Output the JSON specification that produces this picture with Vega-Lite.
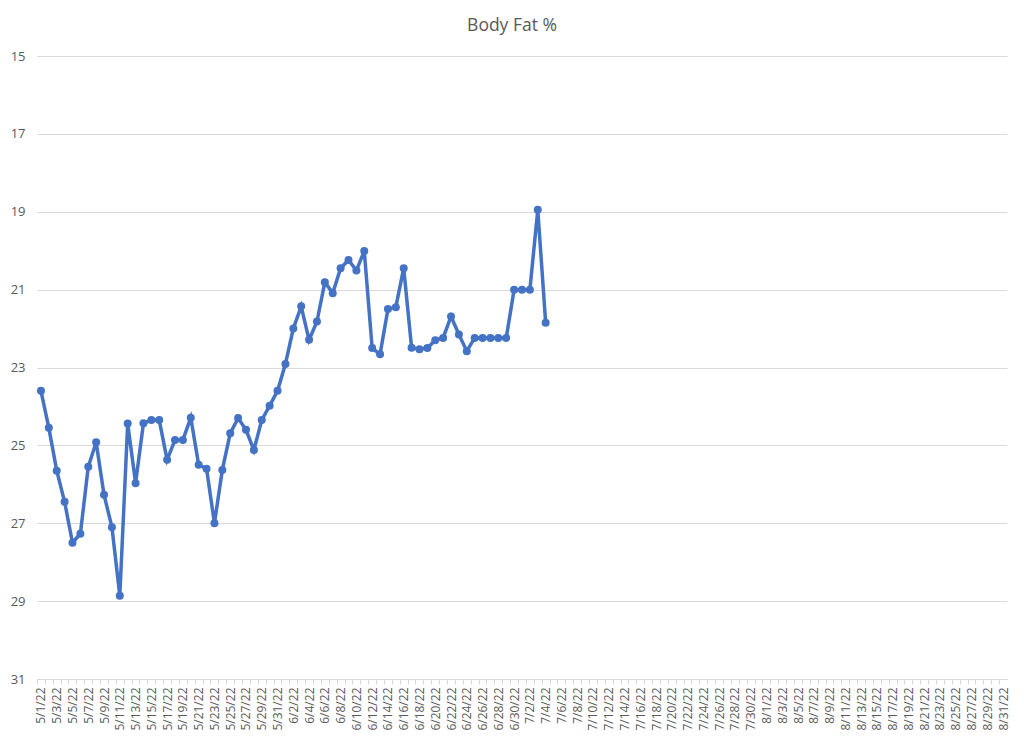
{
  "$schema": "https://vega.github.io/schema/vega-lite/v6.json",
  "width": 970,
  "height": 623,
  "autosize": "none",
  "padding": {"left": 37, "top": 56, "right": 17, "bottom": 64},
  "background": "white",
  "title": {
    "text": "Body Fat %",
    "font": "Open Sans",
    "fontSize": 17.5,
    "fontWeight": "normal",
    "color": "#595959",
    "anchor": "middle",
    "frame": "group",
    "dx": -10,
    "baseline": "alphabetic",
    "offset": 2
  },
  "config": {
    "view": {"stroke": null},
    "axis": {
      "labelFont": "Open Sans",
      "labelFontSize": 12,
      "labelColor": "#595959",
      "domainColor": "#d9d9d9",
      "tickColor": "#d9d9d9",
      "gridColor": "#d9d9d9"
    }
  },
  "data": {
    "values": [
      {"date": "2022-05-01", "bodyfat": 23.6},
      {"date": "2022-05-02", "bodyfat": 24.55},
      {"date": "2022-05-03", "bodyfat": 25.65},
      {"date": "2022-05-04", "bodyfat": 26.45},
      {"date": "2022-05-05", "bodyfat": 27.5},
      {"date": "2022-05-06", "bodyfat": 27.27},
      {"date": "2022-05-07", "bodyfat": 25.55},
      {"date": "2022-05-08", "bodyfat": 24.92},
      {"date": "2022-05-09", "bodyfat": 26.27},
      {"date": "2022-05-10", "bodyfat": 27.1},
      {"date": "2022-05-11", "bodyfat": 28.86},
      {"date": "2022-05-12", "bodyfat": 24.44},
      {"date": "2022-05-13", "bodyfat": 25.97},
      {"date": "2022-05-14", "bodyfat": 24.43},
      {"date": "2022-05-15", "bodyfat": 24.35},
      {"date": "2022-05-16", "bodyfat": 24.35},
      {"date": "2022-05-17", "bodyfat": 25.37},
      {"date": "2022-05-18", "bodyfat": 24.86},
      {"date": "2022-05-19", "bodyfat": 24.86},
      {"date": "2022-05-20", "bodyfat": 24.29},
      {"date": "2022-05-21", "bodyfat": 25.5},
      {"date": "2022-05-22", "bodyfat": 25.6},
      {"date": "2022-05-23", "bodyfat": 27.0},
      {"date": "2022-05-24", "bodyfat": 25.63},
      {"date": "2022-05-25", "bodyfat": 24.69},
      {"date": "2022-05-26", "bodyfat": 24.3},
      {"date": "2022-05-27", "bodyfat": 24.6},
      {"date": "2022-05-28", "bodyfat": 25.12},
      {"date": "2022-05-29", "bodyfat": 24.35},
      {"date": "2022-05-30", "bodyfat": 23.98},
      {"date": "2022-05-31", "bodyfat": 23.6},
      {"date": "2022-06-01", "bodyfat": 22.91},
      {"date": "2022-06-02", "bodyfat": 22.0},
      {"date": "2022-06-03", "bodyfat": 21.43},
      {"date": "2022-06-04", "bodyfat": 22.29},
      {"date": "2022-06-05", "bodyfat": 21.82},
      {"date": "2022-06-06", "bodyfat": 20.81},
      {"date": "2022-06-07", "bodyfat": 21.09},
      {"date": "2022-06-08", "bodyfat": 20.45},
      {"date": "2022-06-09", "bodyfat": 20.24},
      {"date": "2022-06-10", "bodyfat": 20.51},
      {"date": "2022-06-11", "bodyfat": 20.01},
      {"date": "2022-06-12", "bodyfat": 22.5},
      {"date": "2022-06-13", "bodyfat": 22.66},
      {"date": "2022-06-14", "bodyfat": 21.5},
      {"date": "2022-06-15", "bodyfat": 21.45},
      {"date": "2022-06-16", "bodyfat": 20.45},
      {"date": "2022-06-17", "bodyfat": 22.49},
      {"date": "2022-06-18", "bodyfat": 22.53},
      {"date": "2022-06-19", "bodyfat": 22.5},
      {"date": "2022-06-20", "bodyfat": 22.3},
      {"date": "2022-06-21", "bodyfat": 22.24},
      {"date": "2022-06-22", "bodyfat": 21.69},
      {"date": "2022-06-23", "bodyfat": 22.15},
      {"date": "2022-06-24", "bodyfat": 22.58},
      {"date": "2022-06-25", "bodyfat": 22.24},
      {"date": "2022-06-26", "bodyfat": 22.24},
      {"date": "2022-06-27", "bodyfat": 22.24},
      {"date": "2022-06-28", "bodyfat": 22.24},
      {"date": "2022-06-29", "bodyfat": 22.24},
      {"date": "2022-06-30", "bodyfat": 21.0},
      {"date": "2022-07-01", "bodyfat": 21.0},
      {"date": "2022-07-02", "bodyfat": 21.0},
      {"date": "2022-07-03", "bodyfat": 18.95},
      {"date": "2022-07-04", "bodyfat": 21.85}
    ]
  },
  "encoding": {
    "x": {
      "field": "date",
      "type": "temporal",
      "title": null,
      "scale": {
        "type": "utc",
        "domain": [
          {"year": 2022, "month": "apr", "date": 30, "hours": 12, "utc": true},
          {"year": 2022, "month": "aug", "date": 31, "hours": 12, "utc": true}
        ]
      },
      "axis": {
        "grid": false,
        "tickCount": {"interval": "day", "step": 1},
        "labelExpr": "(round((datum.value - utc(2022,4,1)) / 86400000) % 2 == 0) ? utcFormat(datum.value, '%-m/%-d/%y') : ''",
        "labelAngle": -90,
        "labelOverlap": false,
        "labelFlush": false,
        "labelBound": false,
        "tickSize": 5,
        "tickOffset": -4,
        "labelOffset": 4,
        "labelPadding": 3
      }
    },
    "y": {
      "field": "bodyfat",
      "type": "quantitative",
      "title": null,
      "scale": {"domain": [15, 31], "reverse": true, "nice": false, "zero": false},
      "axis": {
        "values": [15, 17, 19, 21, 23, 25, 27, 29, 31],
        "domain": false,
        "ticks": false,
        "labelPadding": 12,
        "labelFontSize": 13
      }
    }
  },
  "layer": [
    {"mark": {"type": "line", "color": "#4472C4", "strokeWidth": 3.5}},
    {"mark": {"type": "point", "filled": true, "color": "#4472C4", "opacity": 1, "size": 64}}
  ]
}
